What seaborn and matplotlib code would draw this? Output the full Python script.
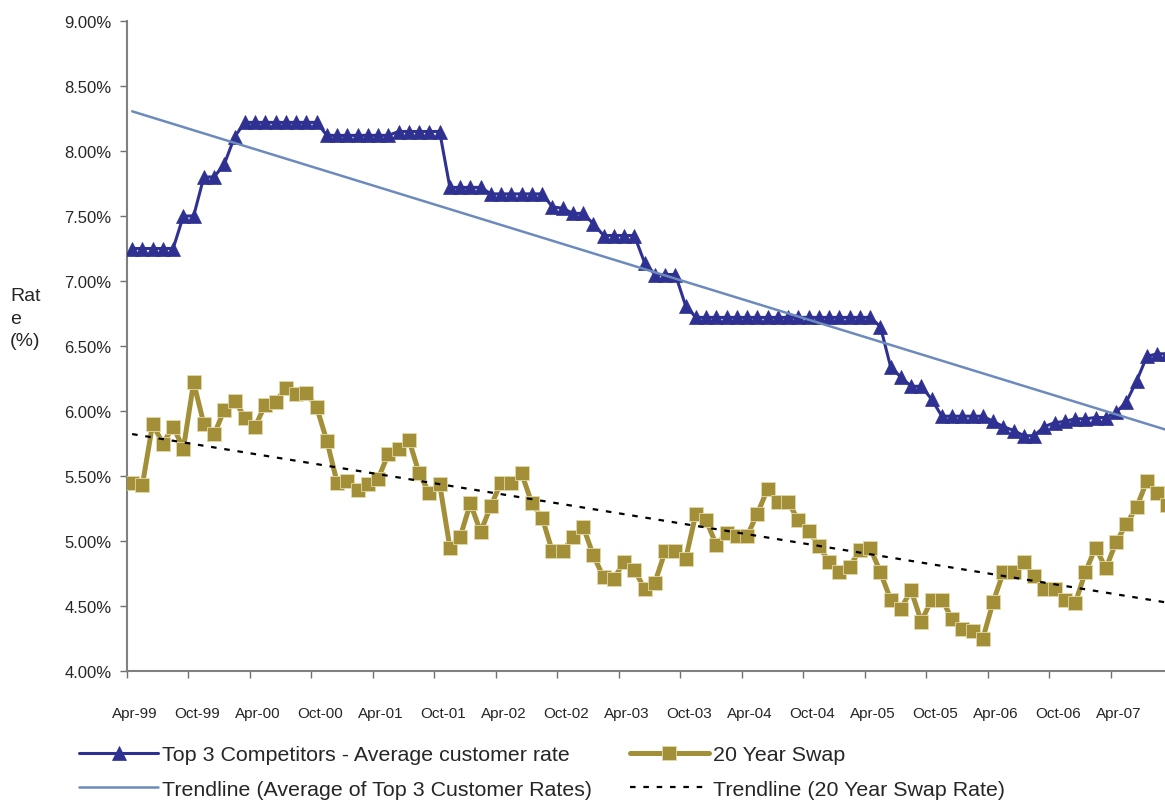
import numpy as np
import pandas as pd
import matplotlib
matplotlib.use("Agg")
import matplotlib.pyplot as plt
import seaborn as sns

# Monthly series, Apr-99 .. Sep-07 (percent)
customer_rate = [
    7.25, 7.25, 7.25, 7.25, 7.25, 7.50, 7.50, 7.80, 7.80, 7.90,
    8.11, 8.22, 8.22, 8.22, 8.22, 8.22, 8.22, 8.22, 8.22, 8.12,
    8.12, 8.12, 8.12, 8.12, 8.12, 8.12, 8.15, 8.15, 8.15, 8.15,
    8.15, 7.72, 7.72, 7.72, 7.72, 7.67, 7.67, 7.67, 7.67, 7.67,
    7.67, 7.57, 7.56, 7.52, 7.52, 7.44, 7.35, 7.35, 7.35, 7.35,
    7.14, 7.05, 7.05, 7.05, 6.81, 6.72, 6.72, 6.72, 6.72, 6.72,
    6.72, 6.72, 6.72, 6.72, 6.72, 6.72, 6.72, 6.72, 6.72, 6.72,
    6.72, 6.72, 6.72, 6.65, 6.34, 6.26, 6.19, 6.19, 6.09, 5.96,
    5.96, 5.96, 5.96, 5.96, 5.92, 5.88, 5.85, 5.81, 5.81, 5.88,
    5.91, 5.92, 5.94, 5.94, 5.95, 5.95, 5.99, 6.07, 6.23, 6.42,
    6.44, 6.44,
]

swap_rate = [
    5.45, 5.43, 5.90, 5.75, 5.88, 5.71, 6.22, 5.90, 5.82, 6.01,
    6.08, 5.95, 5.88, 6.05, 6.07, 6.18, 6.13, 6.14, 6.03, 5.77,
    5.45, 5.46, 5.39, 5.44, 5.48, 5.67, 5.71, 5.78, 5.52, 5.37,
    5.44, 4.95, 5.03, 5.29, 5.07, 5.27, 5.45, 5.45, 5.52, 5.29,
    5.18, 4.92, 4.92, 5.03, 5.11, 4.89, 4.72, 4.71, 4.84, 4.78,
    4.63, 4.68, 4.92, 4.92, 4.86, 5.21, 5.16, 4.97, 5.06, 5.04,
    5.04, 5.21, 5.40, 5.30, 5.30, 5.16, 5.08, 4.96, 4.84, 4.76,
    4.80, 4.93, 4.95, 4.76, 4.55, 4.48, 4.62, 4.38, 4.55, 4.55,
    4.40, 4.32, 4.31, 4.25, 4.53, 4.76, 4.76, 4.84, 4.73, 4.63,
    4.63, 4.55, 4.52, 4.76, 4.95, 4.79, 4.99, 5.13, 5.26, 5.46,
    5.37, 5.28,
]

tick_labels = ["Apr-99", "Oct-99", "Apr-00", "Oct-00", "Apr-01", "Oct-01",
               "Apr-02", "Oct-02", "Apr-03", "Oct-03", "Apr-04", "Oct-04",
               "Apr-05", "Oct-05", "Apr-06", "Oct-06", "Apr-07"]

y_ticks = [4.0, 4.5, 5.0, 5.5, 6.0, 6.5, 7.0, 7.5, 8.0, 8.5, 9.0]

series_names = ["Top 3 Competitors - Average customer rate", "20 Year Swap",
                "Trendline (Average of Top 3 Customer Rates)",
                "Trendline (20 Year Swap Rate)"]

NAVY = "#2E3192"
GOLD = "#A38F38"
TREND_BLUE = "#6C8BBC"

month = np.arange(len(customer_rate))
df = pd.DataFrame({"month": month, "customer": customer_rate, "swap": swap_rate})

# Linear least-squares trendlines
c_fit = np.polyfit(df["month"], df["customer"], 1)
s_fit = np.polyfit(df["month"], df["swap"], 1)
df["customer_trend"] = np.polyval(c_fit, df["month"])
df["swap_trend"] = np.polyval(s_fit, df["month"])

sns.set_theme(style="white")
plt.rcParams["font.family"] = ["Liberation Sans", "DejaVu Sans"]

fig = plt.figure(figsize=(11.65, 8.03), dpi=100)
ax = fig.add_axes([127 / 1165, 1 - 672 / 803, 1 - 127 / 1165, 650 / 803])

sns.lineplot(data=df, x="month", y="customer", ax=ax, color=NAVY, lw=2.2,
             marker="^", markersize=9.5, markeredgecolor=NAVY, markeredgewidth=0.5,
             label=series_names[0], zorder=3)
sns.lineplot(data=df, x="month", y="swap", ax=ax, color=GOLD, lw=3.6,
             marker="s", markersize=10, markeredgecolor="#E2D9A8", markeredgewidth=0.6,
             label=series_names[1], zorder=3)
sns.lineplot(data=df, x="month", y="customer_trend", ax=ax, color=TREND_BLUE, lw=1.8,
             label=series_names[2], zorder=4)
sns.lineplot(data=df, x="month", y="swap_trend", ax=ax, color="black", lw=1.6,
             linestyle=(0, (2.5, 3.5)), label=series_names[3], zorder=4)

ax.set_xlim(-0.5, 100.77)
ax.set_ylim(4.0, 9.0)

# Tick marks on category boundaries, labels on category centres
ax.set_xticks(np.arange(len(tick_labels)) * 6 - 0.5)
ax.set_xticklabels([])
ax.set_xticks(np.arange(len(tick_labels)) * 6 + 0.3, minor=True)
ax.set_xticklabels(tick_labels, minor=True, fontsize=11)
ax.tick_params(axis="x", which="major", direction="out", length=5, width=1,
               color="#707070", bottom=True)
ax.tick_params(axis="x", which="minor", length=0, pad=25.5)

ax.set_yticks(y_ticks)
ax.set_yticklabels([f"{v:.2f}%" for v in y_ticks], fontsize=12)
ax.tick_params(axis="y", direction="out", length=5, width=1, color="#707070",
               left=True, pad=6)

for side in ("top", "right"):
    ax.spines[side].set_visible(False)
for side in ("left", "bottom"):
    ax.spines[side].set_color("#808080")
    ax.spines[side].set_linewidth(1.5)

ax.set_xlabel("")
ax.set_ylabel("")
fig.text(10 / 1165, 1 - 319 / 803, "Rat\ne\n(%)", ha="left", va="center",
         fontsize=14, linespacing=1.42)

handles, labels = ax.get_legend_handles_labels()
ax.get_legend().remove()
order = [0, 2, 1, 3]
fig.legend([handles[i] for i in order], [labels[i] for i in order],
           loc="upper left", bbox_to_anchor=(79 / 1165, 1 - 746 / 803),
           ncol=2, frameon=False, fontsize=15.4, handlelength=3.7,
           handletextpad=0.2, columnspacing=1.75, labelspacing=0.74,
           borderpad=0, borderaxespad=0, numpoints=1)

fig.savefig("out.png", dpi=100, facecolor="white")
